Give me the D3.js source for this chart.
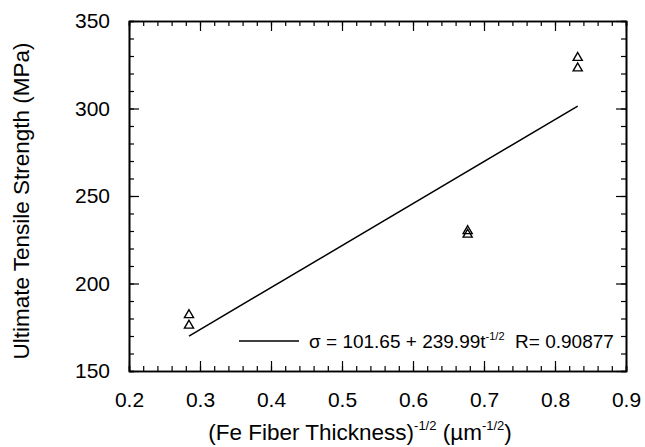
<!DOCTYPE html>
<html>
<head>
<meta charset="utf-8">
<script src="https://cdn.jsdelivr.net/npm/d3@7"></script>
<style>
body { margin: 0; background: #fff; }
text { font-family: "Liberation Sans", Arial, sans-serif; fill: #000; }
.axis path { stroke: #000; stroke-width: 1.6; }
.axis line { stroke: #000; stroke-width: 1.2; }
</style>
</head>
<body>
<script>
// fibre thickness^-1/2 and measured strength (two specimens per thickness)
var thickX = [0.2845, 0.2845, 0.677, 0.677, 0.832, 0.832];
var strengthY = [182, 176, 230, 228, 329, 323];
// fitted line from the legend: sigma = a + b*t^-1/2
var fitA = 101.65, fitB = 239.99, fitR = "0.90877";
var xTicks = [0.2, 0.3, 0.4, 0.5, 0.6, 0.7, 0.8, 0.9];
var yTicks = [150, 200, 250, 300, 350];

var W = 645, H = 447;
var margin = {top: 21, right: 19, bottom: 76, left: 129};
var width = W - margin.left - margin.right,
    height = H - margin.top - margin.bottom;

var svg = d3.select("body").append("svg").attr("width", W).attr("height", H);
var g = svg.append("g").attr("transform", "translate(" + margin.left + "," + margin.top + ")");

var x = d3.scaleLinear().domain([0.2, 0.9]).range([0, width]);
var y = d3.scaleLinear().domain([150, 350]).range([height, 0]);

var xMinor = d3.range(0.2, 0.9001, 0.02);
var yMinor = d3.range(150, 350.001, 10);

// minor ticks first, all sides point inward
function minorAxis(axis, vals) { return axis.tickValues(vals).tickSize(-5).tickFormat(""); }
g.append("g").attr("class", "axis").attr("transform", "translate(0," + height + ")").call(minorAxis(d3.axisBottom(x), xMinor));
g.append("g").attr("class", "axis").call(minorAxis(d3.axisTop(x), xMinor));
g.append("g").attr("class", "axis").call(minorAxis(d3.axisLeft(y), yMinor));
g.append("g").attr("class", "axis").attr("transform", "translate(" + width + ",0)").call(minorAxis(d3.axisRight(y), yMinor));

var xAxis = d3.axisBottom(x).tickValues(xTicks).tickSizeInner(-10).tickSizeOuter(0).tickFormat(d3.format(".1f"));
var yAxis = d3.axisLeft(y).tickValues(yTicks).tickSizeInner(-10).tickSizeOuter(0).tickPadding(19);

g.append("g").attr("class", "axis xaxis").attr("transform", "translate(0," + height + ")").call(xAxis);
g.append("g").attr("class", "axis yaxis").call(yAxis);
g.append("g").attr("class", "axis").call(d3.axisTop(x).tickValues(xTicks).tickSizeInner(-10).tickSizeOuter(0).tickFormat(""));
g.append("g").attr("class", "axis").attr("transform", "translate(" + width + ",0)")
  .call(d3.axisRight(y).tickValues(yTicks).tickSizeInner(-10).tickSizeOuter(0).tickFormat(""));

g.selectAll(".xaxis text, .yaxis text").style("font-size", "21px");
g.selectAll(".xaxis text").attr("y", 36).attr("dy", 0);

// fit line over the data range
var xr = d3.extent(thickX);
g.append("line")
  .attr("x1", x(xr[0])).attr("y1", y(fitA + fitB * xr[0]))
  .attr("x2", x(xr[1])).attr("y2", y(fitA + fitB * xr[1]))
  .attr("stroke", "#000").attr("stroke-width", 1.5);

// open triangles
var tri = d3.symbol().type(d3.symbolTriangle).size(36);
g.selectAll(".pt").data(thickX).enter().append("path")
  .attr("class", "pt")
  .attr("d", tri)
  .attr("transform", function(d, i) { return "translate(" + x(d) + "," + y(strengthY[i]) + ")"; })
  .attr("fill", "none").attr("stroke", "#000").attr("stroke-width", 1.4);

// legend
var ly = 320;
g.append("line").attr("x1", 110).attr("x2", 170).attr("y1", ly).attr("y2", ly)
  .attr("stroke", "#000").attr("stroke-width", 1.3);
var lt = g.append("text").attr("x", 180).attr("y", ly + 7).style("font-size", "19px");
lt.append("tspan").text("\u03c3 = " + fitA + " + " + fitB + "t");
lt.append("tspan").attr("dy", -8).style("font-size", "11px").text("-1/2");
lt.append("tspan").attr("dy", 8).text("  R= " + fitR).attr("xml:space", "preserve");

// axis titles
var xt = svg.append("text").attr("x", 360).attr("y", 440).attr("text-anchor", "middle").style("font-size", "22.5px");
xt.append("tspan").text("(Fe Fiber Thickness)");
xt.append("tspan").attr("dy", -10).style("font-size", "13px").text("-1/2");
xt.append("tspan").attr("dy", 10).text(" (\u00b5m");
xt.append("tspan").attr("dy", -10).style("font-size", "13px").text("-1/2");
xt.append("tspan").attr("dy", 10).text(")");

svg.append("text")
  .attr("transform", "translate(29," + 201 + ") rotate(-90)")
  .attr("text-anchor", "middle").style("font-size", "22.5px")
  .text("Ultimate Tensile Strength (MPa)");
</script>
</body>
</html>
